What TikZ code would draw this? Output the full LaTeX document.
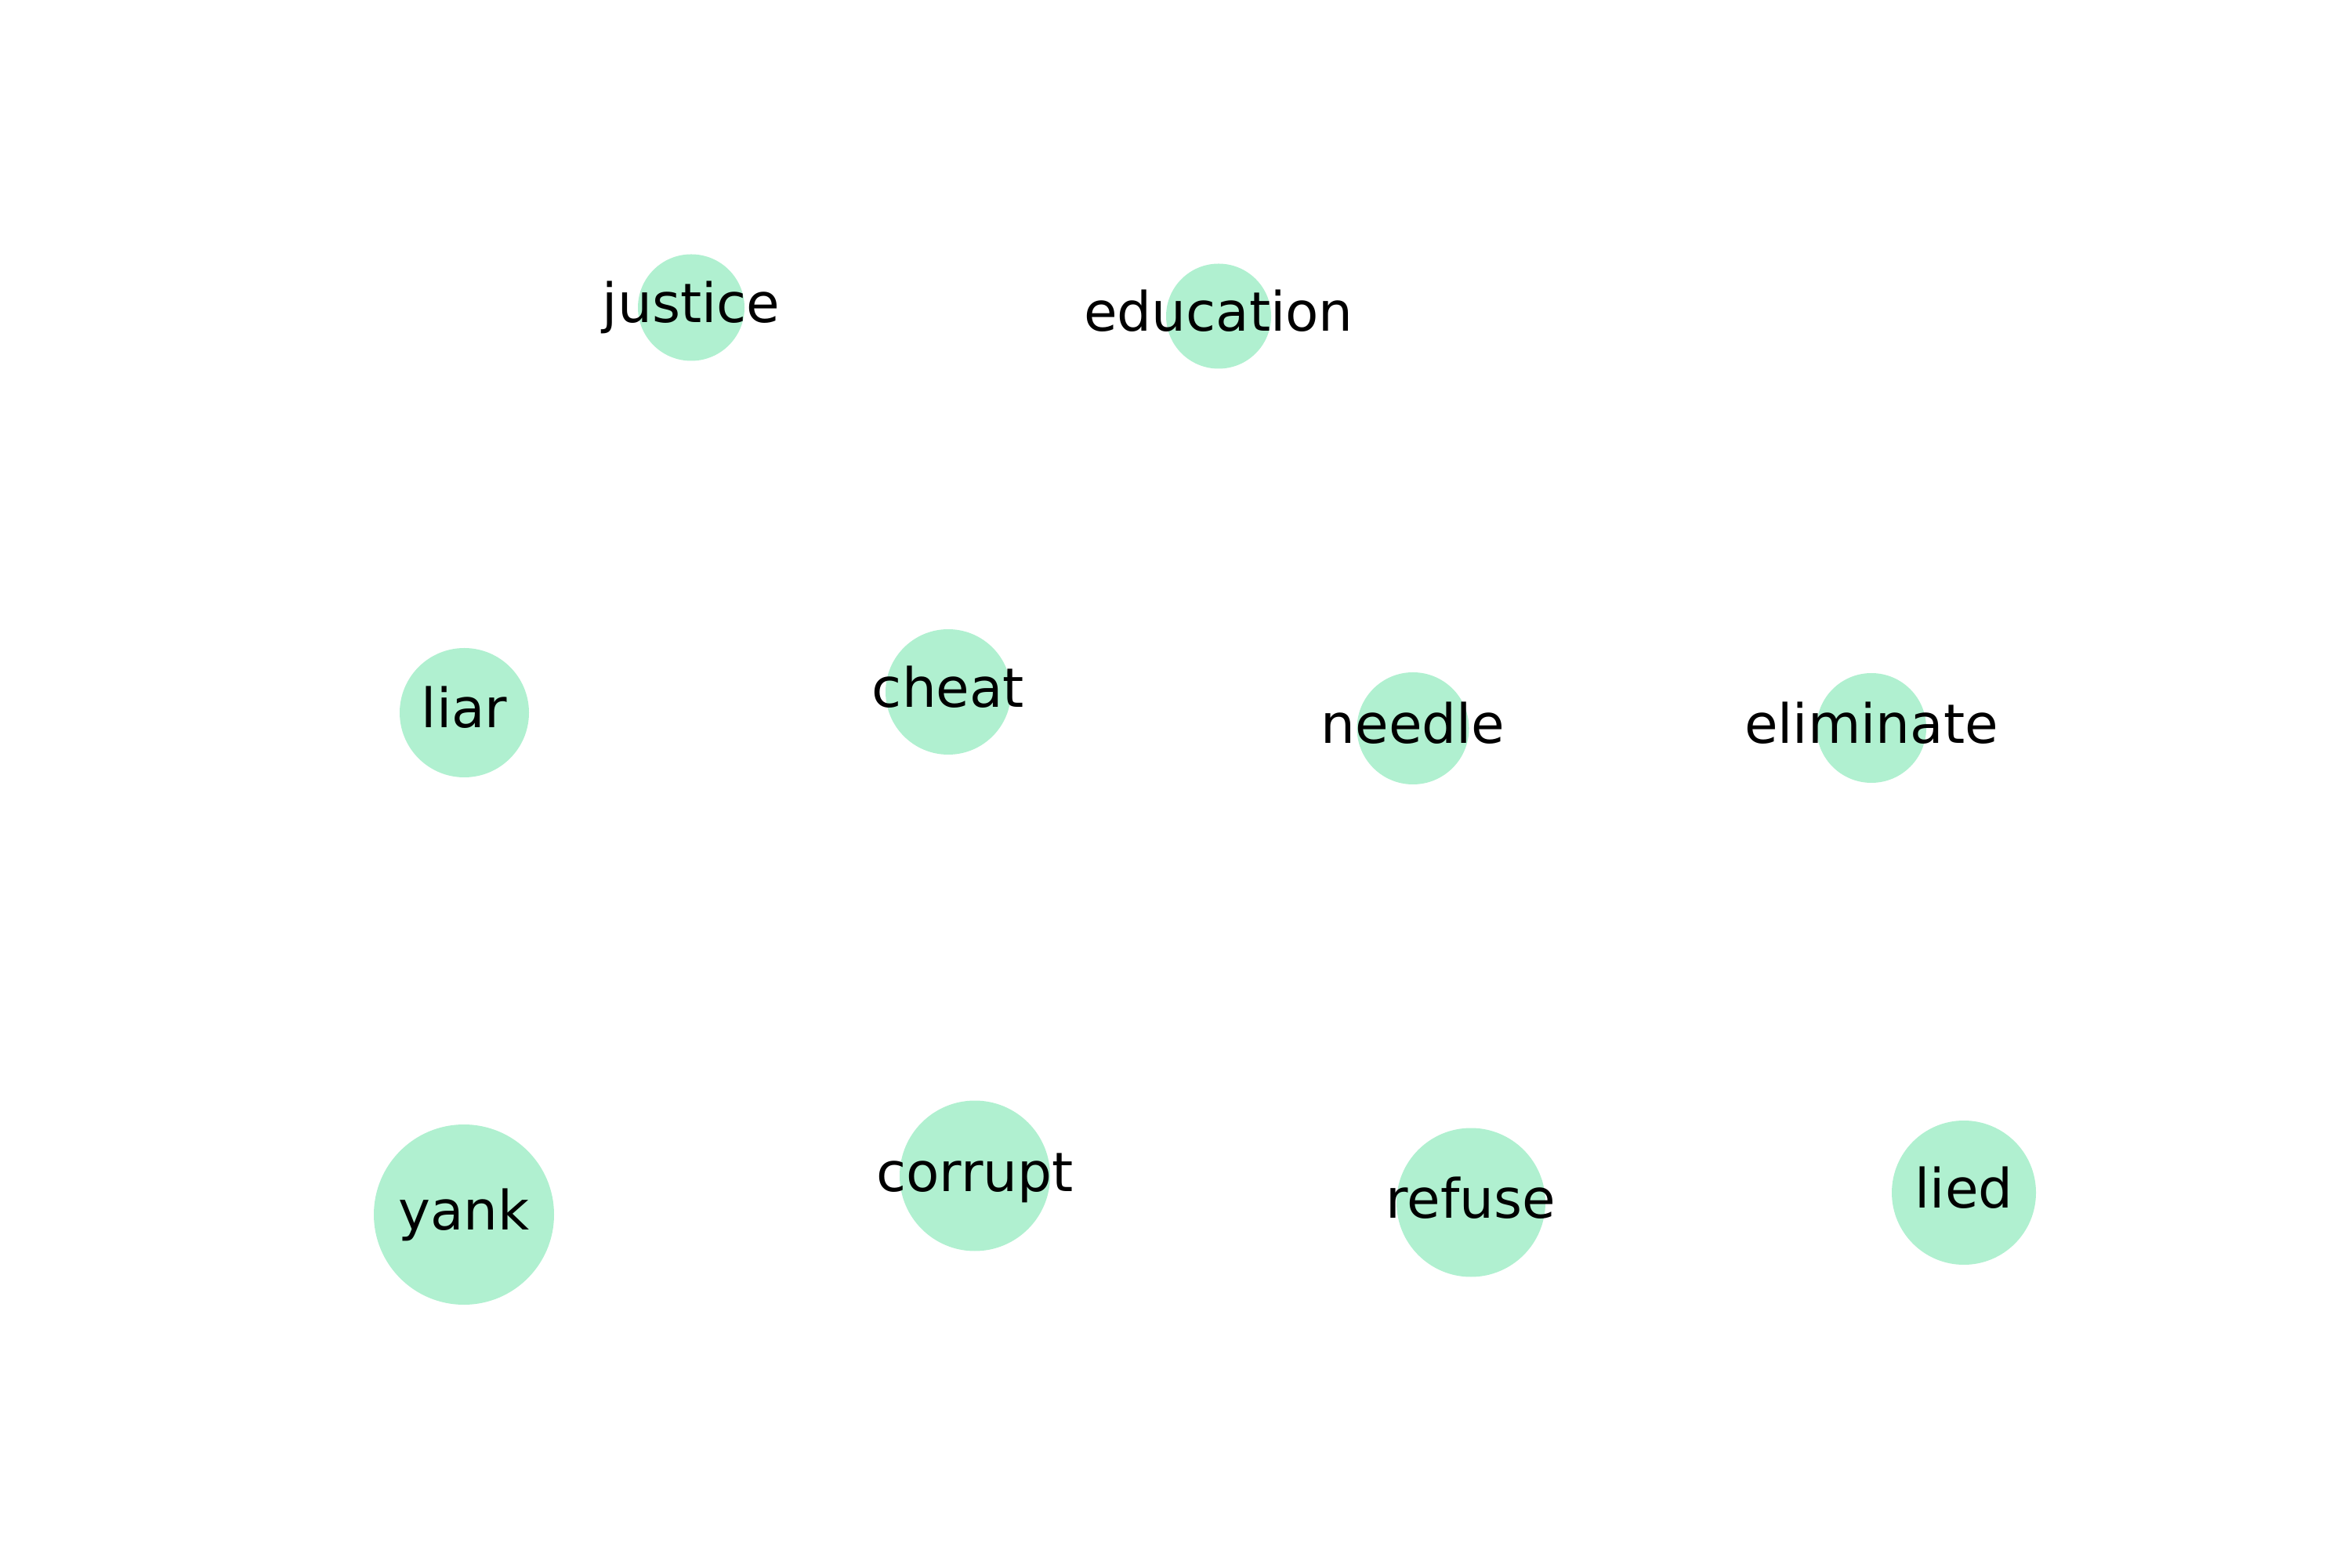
\documentclass[tikz,border=0pt]{standalone}
\usepackage{fontspec}
\setmainfont{DejaVu Sans}
\usepackage{xcolor}
\usepackage{tikz}
\usetikzlibrary{positioning, calc}

\definecolor{wordgreen}{HTML}{B0F0D0}

\begin{document}
\begin{tikzpicture}[
    word/.style={circle, draw=none, fill=wordgreen, inner sep=0pt},
    wordlabel/.style={anchor=base, inner sep=0pt, text=black, font=\fontsize{19.7}{23}\selectfont}
]

    % --- Canvas ---
    \useasboundingbox (0,0) rectangle (30,20);

    % --- Top row ---
    \node[word, minimum size=1.36cm] (justice) at (8.82, 16.075) {};
    \node[word, minimum size=1.34cm] (education) at (15.55, 15.965) {};

    % --- Middle row ---
    \node[word, minimum size=1.65cm] (liar) at (5.925, 10.905) {};
    \node[word, minimum size=1.60cm] (cheat) at (12.10, 11.17) {};
    \node[word, minimum size=1.43cm] (needle) at (18.03, 10.705) {};
    \node[word, minimum size=1.40cm] (eliminate) at (23.88, 10.71) {};

    % --- Bottom row ---
    \node[word, minimum size=2.30cm] (yank) at (5.92, 4.50) {};
    \node[word, minimum size=1.92cm] (corrupt) at (12.44, 4.995) {};
    \node[word, minimum size=1.90cm] (refuse) at (18.77, 4.655) {};
    \node[word, minimum size=1.84cm] (lied) at (25.06, 4.78) {};

    % --- Labels ---
    \foreach \w in {justice, education, liar, cheat, needle, eliminate, yank, corrupt, refuse, lied}
        \node[wordlabel] (\w-text) at ([yshift=-1.95mm]\w.center) {\w};

\end{tikzpicture}
\end{document}
